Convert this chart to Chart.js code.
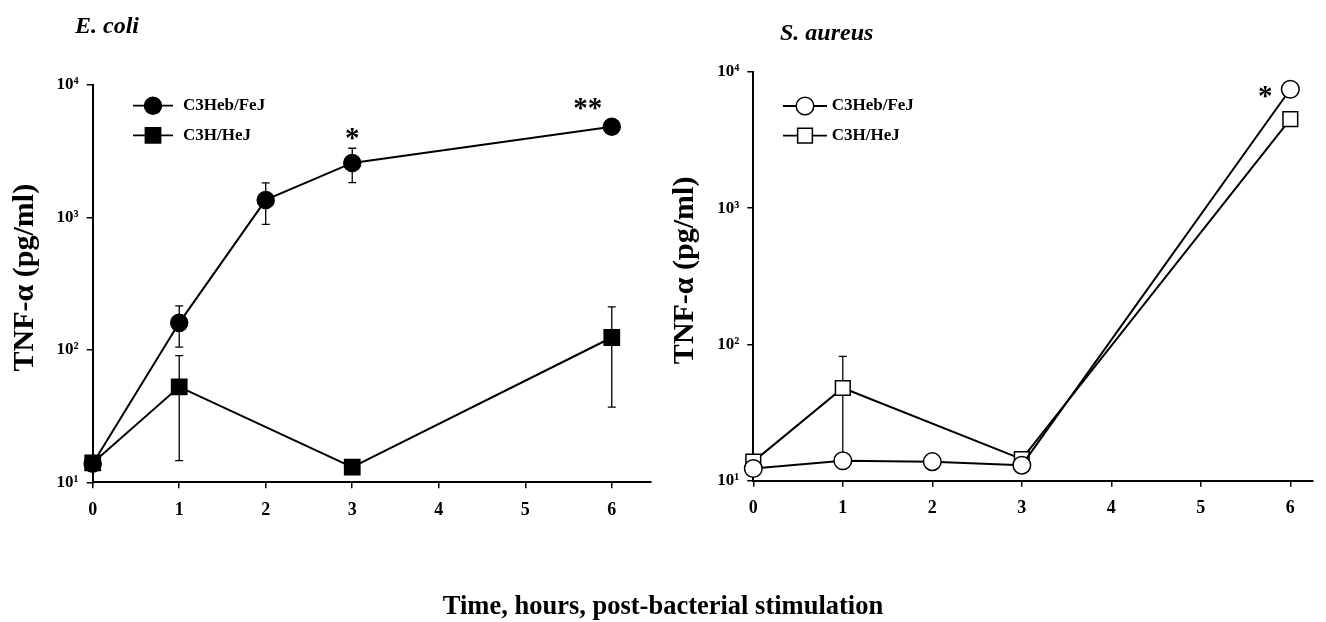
<!DOCTYPE html>
<html>
<head>
<meta charset="utf-8">
<script src="https://cdn.jsdelivr.net/npm/chart.js@4.4.1/dist/chart.umd.min.js"></script>
<style>
    html, body { margin: 0; padding: 0; background: #fff; }
    #wrap { position: relative; width: 1326px; height: 622px; overflow: hidden; background: #fff; }
    #wrap canvas { position: absolute; top: 0; }
    #x-title {
        position: absolute; left: 0; top: 592px; width: 1326px; text-align: center;
        font: bold 26.5px/26px "Liberation Serif", "Times New Roman", serif; color: #000;
    }
</style>
</head>
<body>
<div id="wrap">
    <canvas id="ecoli-chart" width="663" height="622" style="left:0"></canvas>
    <canvas id="aureus-chart" width="663" height="622" style="left:663px"></canvas>
    <div id="x-title">Time, hours, post-bacterial stimulation</div>
</div>
<script>
// hours sampled for each strain
var hoursFeJ = [0, 1, 2, 3, 6];
var hoursHeJ = [0, 1, 3, 6];

// E. coli, TNF-a pg/ml, mean and error
var ecoliFeJ = [13.8, 160, 1356, 2580, 4840];
var ecoliFeJErr = [0, 55, 470, 750, 350];
var ecoliHeJ = [14, 52.6, 13, 124];
var ecoliHeJErr = [0, 38, 0, 87];

// S. aureus
var aureusFeJ = [12.3, 14.0, 13.8, 13.0, 7470];
var aureusFeJErr = [0, 0, 0, 0, 0];
var aureusHeJ = [13.8, 47.9, 14.4, 4510];
var aureusHeJErr = [0, 34, 0, 0];

var seriesNames = ['C3Heb/FeJ', 'C3H/HeJ'];
var xTickValues = [0, 1, 2, 3, 4, 5, 6];
var xTickLabels = ['0', '1', '2', '3', '4', '5', '6'];
var yTickValues = [10, 100, 1000, 10000];
var yTickLabels = ['10\u00B9', '10\u00B2', '10\u00B3', '10\u2074'];

var FONT = '"Liberation Serif", "Times New Roman", serif';
Chart.defaults.font.family = FONT;
Chart.defaults.color = '#000';

function toPoints(xs, ys) {
    return xs.map(function (x, i) { return { x: x, y: ys[i] }; });
}

// error bars, legend, titles and significance marks
var panelDecor = {
    id: 'panelDecor',
    beforeDatasetsDraw: function (chart) {
        var ctx = chart.ctx;
        var xs = chart.scales.x, ys = chart.scales.y;
        ctx.save();
        ctx.strokeStyle = '#000';
        ctx.lineWidth = 1.3;
        chart.data.datasets.forEach(function (ds) {
            if (!ds.errors) return;
            ds.data.forEach(function (p, i) {
                var e = ds.errors[i];
                if (!e) return;
                var px = xs.getPixelForValue(p.x);
                var top = ys.getPixelForValue(p.y + e);
                var bot = ys.getPixelForValue(p.y - e);
                ctx.beginPath();
                ctx.moveTo(px, top); ctx.lineTo(px, bot);
                ctx.moveTo(px - 4, top); ctx.lineTo(px + 4, top);
                ctx.moveTo(px - 4, bot); ctx.lineTo(px + 4, bot);
                ctx.stroke();
            });
        });
        ctx.restore();
    },
    afterDraw: function (chart, args, opts) {
        var ctx = chart.ctx;
        var area = chart.chartArea;
        var xs = chart.scales.x, ys = chart.scales.y;
        ctx.save();
        ctx.fillStyle = '#000';

        // panel title
        ctx.font = 'italic bold 24px ' + FONT;
        ctx.textAlign = 'left';
        ctx.textBaseline = 'alphabetic';
        ctx.fillText(opts.title.text, opts.title.x, opts.title.y);

        // y axis title
        ctx.save();
        ctx.translate(area.left + opts.yTitleDx, (area.top + area.bottom) / 2 + opts.yTitleDy);
        ctx.rotate(-Math.PI / 2);
        ctx.font = 'bold 30px ' + FONT;
        ctx.textAlign = 'center';
        ctx.textBaseline = 'middle';
        ctx.fillText('TNF-\u03B1 (pg/ml)', 0, 0);
        ctx.restore();

        // legend
        var lg = opts.legend;
        chart.data.datasets.forEach(function (ds, i) {
            var y = area.top + lg.y0 + i * lg.dy;
            ctx.strokeStyle = '#000';
            ctx.lineWidth = 1.8;
            ctx.beginPath();
            ctx.moveTo(area.left + lg.x0, y);
            ctx.lineTo(area.left + lg.x1, y);
            ctx.stroke();
            ctx.fillStyle = ds.pointBackgroundColor;
            ctx.lineWidth = ds.pointBorderWidth;
            Chart.helpers.drawPoint(ctx, {
                pointStyle: ds.pointStyle,
                radius: ds.pointRadius,
                rotation: 0,
                borderWidth: ds.pointBorderWidth
            }, area.left + (lg.x0 + lg.x1) / 2, y);
            ctx.fillStyle = '#000';
            ctx.font = 'bold 17px ' + FONT;
            ctx.textAlign = 'left';
            ctx.textBaseline = 'middle';
            ctx.fillText(ds.label, area.left + lg.text, y);
        });

        // significance stars
        ctx.font = 'bold 29px ' + FONT;
        ctx.textAlign = 'center';
        ctx.textBaseline = 'alphabetic';
        opts.stars.forEach(function (s) {
            var px = xs.getPixelForValue(s.x) + s.dx;
            var py = ys.getPixelForValue(s.y) + s.dy;
            ctx.fillText(s.text, px, py + 13);
        });
        ctx.restore();
    }
};

function MakeDataset(label, xs, ys, errs, style, radius, fill) {
    return {
        label: label,
        data: toPoints(xs, ys),
        errors: errs,
        borderColor: '#000',
        borderWidth: 2,
        pointStyle: style,
        pointRadius: radius,
        pointBorderWidth: 1.5,
        pointBorderColor: '#000',
        pointBackgroundColor: fill,
        tension: 0,
        clip: false
    };
}

function MakePanel(canvasId, datasets, cfg) {
    var ctx = document.getElementById(canvasId);
    var axisGrid = { drawOnChartArea: false, drawTicks: true, tickLength: 6, color: '#000', lineWidth: 1.5 };
    var axisBorder = { display: true, color: '#000', width: 2 };
    return new Chart(ctx, {
        type: 'line',
        data: { datasets: datasets },
        plugins: [panelDecor],
        options: {
            responsive: false,
            animation: false,
            layout: { padding: cfg.padding },
            plugins: {
                legend: { display: false },
                tooltip: { enabled: false },
                panelDecor: cfg.decor
            },
            scales: {
                x: {
                    type: 'linear',
                    min: 0,
                    max: cfg.xMax,
                    afterBuildTicks: function (s) { s.ticks = xTickValues.map(function (v) { return { value: v }; }); },
                    afterFit: function (s) { s.height = 40; },
                    ticks: {
                        callback: function (v, i) { return xTickLabels[i]; },
                        font: { size: 18, weight: 'bold' },
                        color: '#000',
                        padding: 11,
                        maxRotation: 0,
                        autoSkip: false
                    },
                    grid: axisGrid,
                    border: axisBorder
                },
                y: {
                    type: 'logarithmic',
                    min: 10,
                    max: 10000,
                    afterBuildTicks: function (s) { s.ticks = yTickValues.map(function (v) { return { value: v }; }); },
                    afterFit: function (s) { s.width = 60; },
                    ticks: {
                        callback: function (v, i) { return yTickLabels[i]; },
                        font: { size: 17, weight: 'bold' },
                        color: '#000',
                        padding: 8,
                        autoSkip: false
                    },
                    grid: axisGrid,
                    border: axisBorder
                }
            }
        }
    });
}

var EcoliChart = MakePanel('ecoli-chart', [
    MakeDataset(seriesNames[0], hoursFeJ, ecoliFeJ, ecoliFeJErr, 'circle', 8.5, '#000'),
    MakeDataset(seriesNames[1], hoursHeJ, ecoliHeJ, ecoliHeJErr, 'rect', 10.8, '#000')
], {
    xMax: 6.45,
    padding: { left: 32.7, right: 5.9, top: 85, bottom: 99.7 },
    decor: {
        title: { text: 'E. coli', x: 75, y: 33 },
        yTitleDx: -67,
        yTitleDy: -6,
        legend: { x0: 40.3, x1: 80.3, text: 90.3, y0: 20.7, dy: 29.6 },
        stars: [
            { x: 3, y: ecoliFeJ[3] + ecoliFeJErr[3], text: '*', dx: 0, dy: -14 },
            { x: 6, y: ecoliFeJ[4], text: '**', dx: -24, dy: -23 }
        ]
    }
});

var AureusChart = MakePanel('aureus-chart', [
    MakeDataset(seriesNames[0], hoursFeJ, aureusFeJ, aureusFeJErr, 'circle', 8.8, '#fff'),
    MakeDataset(seriesNames[1], hoursHeJ, aureusHeJ, aureusHeJErr, 'rect', 10.4, '#fff')
], {
    xMax: 6.25,
    padding: { left: 30.3, right: 13.3, top: 72, bottom: 101.3 },
    decor: {
        title: { text: 'S. aureus', x: 117, y: 40 },
        yTitleDx: -68,
        yTitleDy: -6,
        legend: { x0: 29.7, x1: 73.7, text: 78.4, y0: 34, dy: 29.7 },
        stars: [
            { x: 6, y: aureusFeJ[4], text: '*', dx: -25, dy: 3 }
        ]
    }
});
</script>
</body>
</html>
